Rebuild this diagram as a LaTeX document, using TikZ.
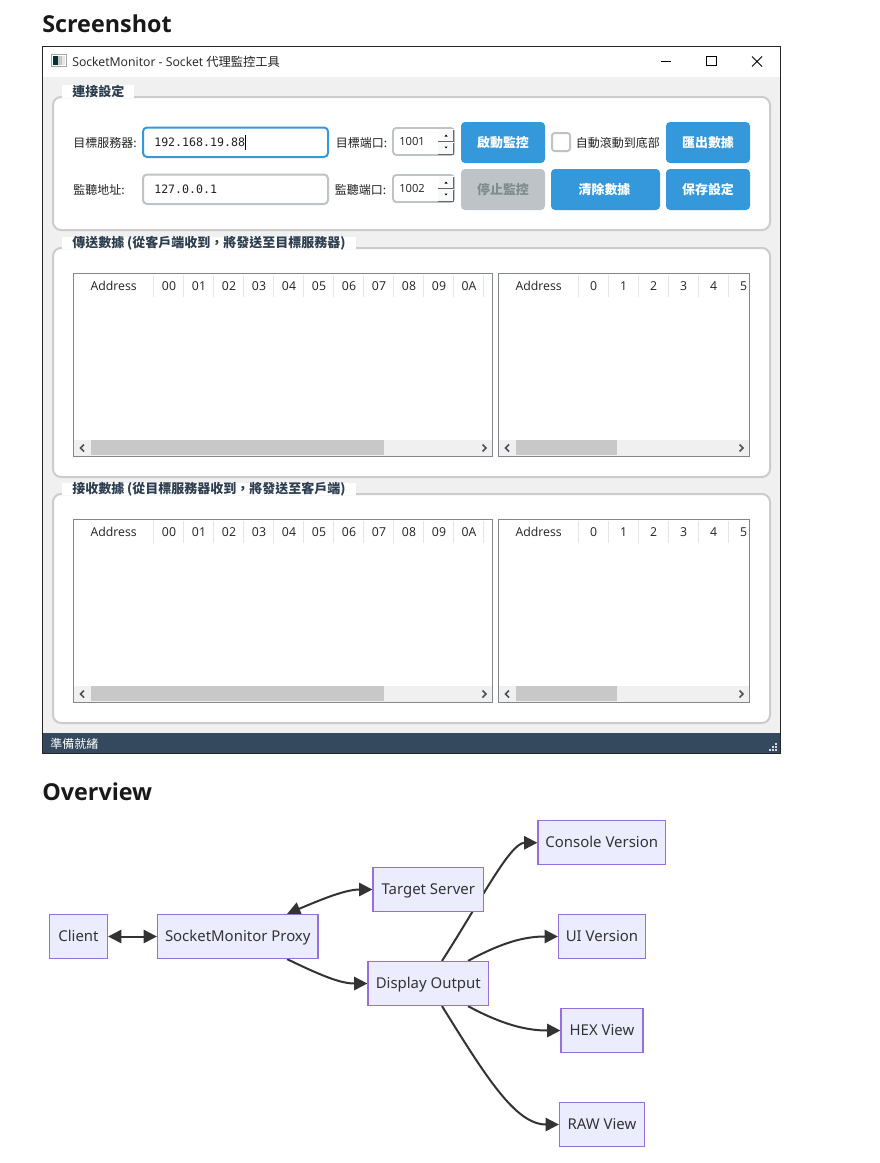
\documentclass[tikz,border=0pt]{standalone}
\usepackage{fontspec}
\setmainfont{Open Sans}
\newfontfamily\cjkfont{Noto Sans CJK TC}
\newfontfamily\monofont{DejaVu Sans Mono}
\newfontfamily\flowfont{Noto Sans}
\usetikzlibrary{arrows.meta,positioning}
\pgfdeclarelayer{pagelayer}
\pgfdeclarelayer{edgelayer}
\pgfsetlayers{pagelayer,edgelayer,main}
\definecolor{winbg}{HTML}{F0F0F0}
\definecolor{groupline}{HTML}{CCCCCC}
\definecolor{blueb}{HTML}{3498DB}
\definecolor{greyb}{HTML}{BDC3C7}
\definecolor{greyt}{HTML}{7F8C8D}
\definecolor{statusb}{HTML}{34495E}
\definecolor{uitext}{HTML}{222222}
\definecolor{legendt}{HTML}{2C3E50}
\definecolor{tabline}{HTML}{828790}
\definecolor{hdrline}{HTML}{E5E5E5}
\definecolor{thumb}{HTML}{C8C8C8}
\definecolor{chev}{HTML}{505050}
\definecolor{flowfill}{HTML}{ECECFF}
\definecolor{flowline}{HTML}{9370DB}
\definecolor{flowtext}{HTML}{333333}
\tikzset{
  heading/.style={anchor=base west,inner sep=0pt,font=\fontsize{17.5}{20}\selectfont\bfseries,text=black!90},
  uilabel/.style={inner sep=0pt,text=uitext,font=\fontsize{9}{10}\selectfont\cjkfont},
  legendlabel/.style={anchor=west,inner sep=0pt,text=legendt,font=\fontsize{9.75}{10}\selectfont\cjkfont\bfseries},
  hdr/.style={inner sep=0pt,text=uitext,font=\fontsize{9.2}{10}\selectfont},
  groupbox/.style={draw=groupline,fill=white,line width=1.5pt,rounded corners=6pt},
  bluebtn/.style={fill=blueb,rounded corners=3pt},
  btntext/.style={inner sep=0pt,text=white,font=\fontsize{9.7}{10}\selectfont\cjkfont\bfseries},
  monotext/.style={anchor=west,inner sep=0pt,text=uitext,font=\fontsize{8.7}{10}\selectfont\monofont},
  spintext/.style={anchor=west,inner sep=0pt,text=uitext,font=\fontsize{8.4}{10}\selectfont},
  chevron/.style={draw=chev,line width=1.1pt},
  flowbox/.style={draw=flowline,fill=flowfill,line width=0.9pt,inner sep=0pt,minimum height=33pt,text height=9.3pt,text depth=2.2pt,text=flowtext,font=\fontsize{11.2}{13}\selectfont\flowfont},
  flowedge/.style={draw=flowtext,line width=1.5pt},
  tip/.style={-{Triangle[length=10pt,width=10pt]}},
  bitip/.style={{Triangle[length=10pt,width=10pt]}-{Triangle[length=10pt,width=10pt]}},
}
\newcommand{\uitable}[1]{%
  % left table
  \draw[draw=tabline,fill=white,line width=.75pt] (73.5,273.5) rectangle (492.5,456.5);
  \foreach \sx in {153.5,183.5,...,483.5} \draw[hdrline,line width=.75pt] (\sx,275) -- (\sx,297);
  \node[hdr] (#1addrL) at (113.7,285.5) {Address};
  \foreach \lab [count=\i from 0] in {00,01,02,03,04,05,06,07,08,09,0A}
    \node[hdr] (#1hl\i) at ({169+30*\i},285.8) {\lab};
  \fill[winbg] (74,440) rectangle (492,456);
  \fill[thumb] (91,440) rectangle (384,455);
  \draw[chevron] (84,444.5) -- (80.5,448) -- (84,451.5);
  \draw[chevron] (482.5,444.5) -- (486,448) -- (482.5,451.5);
  % right table
  \draw[draw=tabline,fill=white,line width=.75pt] (498.5,273.5) rectangle (749.5,456.5);
  \foreach \sx in {578.5,608.5,...,728.5} \draw[hdrline,line width=.75pt] (\sx,275) -- (\sx,297);
  \node[hdr] (#1addrR) at (538.7,285.5) {Address};
  \foreach \lab [count=\i from 0] in {0,1,2,3,4,5}
    \node[hdr] (#1hr\i) at ({593.5+30*\i},285.8) {\lab};
  \fill[winbg] (499,440) rectangle (749,456);
  \fill[thumb] (516,440) rectangle (617,455);
  \draw[chevron] (509,444.5) -- (505.5,448) -- (509,451.5);
  \draw[chevron] (739.5,444.5) -- (743,448) -- (739.5,451.5);
}
\newcommand{\spinbox}[3]{%
  \draw[draw=greyb,fill=white,line width=1.4pt,rounded corners=2.5pt] (393,#1) rectangle (454,#1+27);
  \node[spintext] (#3) at (399,#1+13.5) {#2};
  \fill[winbg!40!white] (438,#1+1) rectangle (454,#1+26);
  \draw[white,line width=.75pt] (438,#1+13) -- (438,#1+1.5) -- (453.5,#1+1.5);
  \draw[black!60,line width=.75pt] (438,#1+13) -- (453.5,#1+13) -- (453.5,#1+1.5);
  \draw[black!60,line width=.75pt] (438,#1+26) -- (453.5,#1+26) -- (453.5,#1+14.5);
  \fill[black] (444.5,#1+8.5) -- (447.5,#1+8.5) -- (446,#1+6.5) -- cycle;
  \fill[black] (444.5,#1+18.5) -- (447.5,#1+18.5) -- (446,#1+20.5) -- cycle;
}
\begin{document}
\begin{tikzpicture}[x=0.75pt,y=-0.75pt]
\useasboundingbox (0,0) rectangle (879,1163);
\begin{pgfonlayer}{pagelayer}
\fill[white] (0,0) rectangle (879,1163);
\end{pgfonlayer}

\node[heading] (shotHead) at (42,33) {Screenshot};
\node[heading] (overHead) at (42,800) {Overview};

% window
\draw[draw=black!85,fill=winbg,line width=.9pt] (42.5,46.5) rectangle (780.5,753);
\fill[white] (43,47) rectangle (780,77);
\fill[statusb] (43,733) rectangle (780,752.5);
\node[uilabel,anchor=west,text=white] (statusText) at (50,743.5) {準備就緒};
\foreach \gx/\gy in {775.7/743.5,773/746.7,775.7/746.7,770/749.5,773/749.5,775.7/749.5}
  \fill[white!80!statusb] (\gx-1,\gy-1) rectangle (\gx+1,\gy+1);

% title bar
\fill[gray!70] (51,54) rectangle (66.5,67.5);
\fill[white] (52,55) rectangle (65.5,66.5);
\fill[black!60!teal] (53,56) rectangle (58,65.5);
\fill[gray!45] (58,56) rectangle (62,65.5);
\fill[gray!20] (62,56) rectangle (65,65.5);
\node[anchor=west,inner sep=0pt,text=uitext,font=\fontsize{9.2}{10}\selectfont] (winTitle) at (72,61.5) {SocketMonitor - Socket {\cjkfont 代理監控工具}};
\draw[black,line width=.75pt] (661,61.5) -- (671,61.5);
\draw[black,line width=.75pt] (706.5,56.5) rectangle (716,66);
\draw[black,line width=.75pt] (752,56.5) -- (762,66.5) (762,56.5) -- (752,66.5);

% group boxes
\draw[groupbox] (53,97) rectangle (770,230);
\fill[white] (62,85) rectangle (134,98);
\node[legendlabel] (legend1) at (72,91.5) {連接設定};
\draw[groupbox] (53,248) rectangle (770,477);
\fill[white] (62,237) rectangle (356,249);
\node[legendlabel] (legend2) at (72,243.5) {傳送數據 (從客戶端收到，將發送至目標服務器)};
\draw[groupbox] (53,494) rectangle (770,723);
\fill[white] (62,483) rectangle (356,495);
\node[legendlabel] (legend3) at (72,489.5) {接收數據 (從目標服務器收到，將發送至客戶端)};

% connection row
\node[uilabel,anchor=west] (lblTarget) at (73,143) {目標服務器:};
\node[uilabel,anchor=west] (lblListen) at (73,190) {監聽地址:};
\draw[draw=blueb,fill=white,line width=1.5pt,rounded corners=3pt] (143,127.5) rectangle (328,157);
\node[monotext] (ipTarget) at (154,142.5) {192.168.19.88};
\draw[black,line width=.6pt] (245.5,135) -- (245.5,150);
\draw[draw=greyb,fill=white,line width=1.5pt,rounded corners=3pt] (143,174.5) rectangle (328,204);
\node[monotext] (ipListen) at (154,189) {127.0.0.1};
\node[uilabel,anchor=west] (lblPortT) at (335.5,143) {目標端口:};
\node[uilabel,anchor=west] (lblPortL) at (334.5,190) {監聽端口:};
\spinbox{128}{1001}{portT}
\spinbox{175}{1002}{portL}
\fill[bluebtn] (461,122) rectangle (545,163);
\node[btntext] (btnStart) at (503,142.5) {啟動監控};
\fill[greyb,rounded corners=3pt] (461,169) rectangle (545,210);
\node[btntext,text=greyt] (btnStop) at (503,189.5) {停止監控};
\draw[draw=greyb,fill=white,line width=1.5pt,rounded corners=2pt] (552,133) rectangle (570,151);
\begin{scope}
  \clip (574,130) rectangle (659.5,156);
  \node[uilabel,anchor=west] (lblAuto) at (575.5,142.5) {自動滾動到底部};
\end{scope}
\fill[bluebtn] (551,169) rectangle (660,210);
\node[btntext] (btnClear) at (604.5,189.5) {清除數據};
\fill[bluebtn] (666,122) rectangle (750,163);
\node[btntext] (btnExport) at (708,142.5) {匯出數據};
\fill[bluebtn] (666,169) rectangle (750,210);
\node[btntext] (btnSave) at (708,189.5) {保存設定};

% tables
\uitable{send}
\begin{scope}[shift={(0,246)}]
\uitable{recv}
\end{scope}

% flowchart
\node[flowbox,minimum width=43.5pt] (client) at (78.5,936.5) {Client};
\node[flowbox,minimum width=120.4pt] (proxy) at (237.75,936.5) {SocketMonitor Proxy};
\node[flowbox,minimum width=82.9pt] (target) at (428.25,889.5) {Target Server};
\node[flowbox,minimum width=90.4pt] (display) at (428.25,983.5) {Display Output};
\node[flowbox,minimum width=95.7pt] (console) at (601.75,842.75) {Console Version};
\node[flowbox,minimum width=65.3pt] (uiver) at (602,936.5) {UI Version};
\node[flowbox,minimum width=61.5pt] (hexview) at (602,1030.5) {HEX View};
\node[flowbox,minimum width=63.8pt] (rawview) at (602,1124.5) {RAW View};
\begin{pgfonlayer}{edgelayer}
\draw[flowedge,bitip] (client) -- (proxy);
\draw[flowedge,bitip] ([xshift=37pt]proxy.north) .. controls (320,900) and (345,889.5) .. (target.west);
\draw[flowedge,tip] ([xshift=37pt]proxy.south) .. controls (320,975) and (340,983.5) .. (display.west);
\draw[flowedge,tip] ([xshift=10.3pt]display.north) .. controls (480,902) and (510,842.75) .. (console.west);
\draw[flowedge,tip] ([xshift=29.8pt]display.north) .. controls (503,942) and (525,936.5) .. (uiver.west);
\draw[flowedge,tip] ([xshift=29.8pt]display.south) .. controls (503,1025) and (527,1030.5) .. (hexview.west);
\draw[flowedge,tip] ([xshift=10.3pt]display.south) .. controls (485,1075) and (515,1124.5) .. (rawview.west);
\end{pgfonlayer}
\end{tikzpicture}
\end{document}
